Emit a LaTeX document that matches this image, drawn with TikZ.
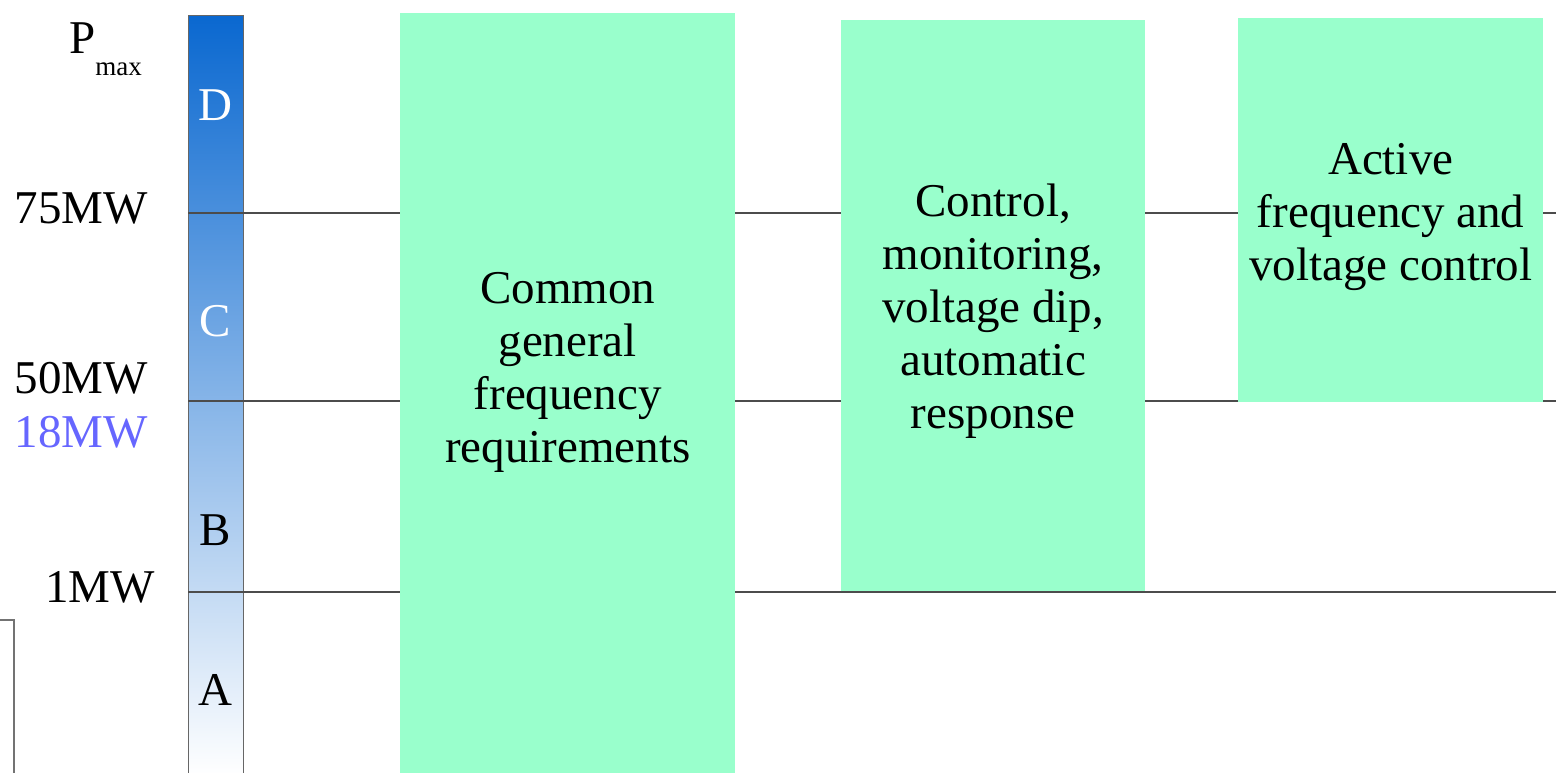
\documentclass[tikz,border=0pt]{standalone}
\usepackage{fontspec}
\setmainfont{Liberation Serif}
\usepackage{tikz}
\usetikzlibrary{positioning}
\definecolor{reqgreen}{HTML}{99FFCC}
\definecolor{barblue}{HTML}{0A68D0}
\definecolor{lblblue}{HTML}{6666FF}

\begin{document}
\begin{tikzpicture}[
      x=1pt, y=-1pt,
      every node/.style={inner sep=0pt, font=\fontsize{47}{53}\selectfont},
      reqbox/.style={fill=reqgreen, anchor=north west},
      reqtext/.style={align=center},
      mwlabel/.style={anchor=base east},
      classlbl/.style={anchor=base},
      level/.style={line width=1.2pt, black!70}
  ]
      \useasboundingbox (0,0) rectangle (1556,772);

      % Leistungsklassen-Balken
      \node[draw=black!60, line width=1.2pt, top color=barblue, bottom color=white,
            minimum width=55pt, minimum height=760pt, anchor=north west] (bar) at (188,15) {};
      \draw[black!55, line width=1.3pt] (-2,620) rectangle (14,776);

      % Grenzlinien
      \coordinate (l75) at (188,213);  \coordinate (r75) at (1556,213);
      \coordinate (l50) at (188,401);  \coordinate (r50) at (1556,401);
      \coordinate (l1)  at (188,592);  \coordinate (r1)  at (1556,592);
      \draw[level] (l75) -- (r75);
      \draw[level] (l50) -- (r50);
      \draw[level] (l1)  -- (r1);

      % Anforderungen
      \node[reqbox, minimum width=335pt, minimum height=760pt] (gen)  at (400,13)  {};
      \node[reqbox, minimum width=304pt, minimum height=571pt] (ctrl) at (841,20)  {};
      \node[reqbox, minimum width=305pt, minimum height=384pt] (act)  at (1238,18) {};
      \node[reqtext] (gentxt)  at ([yshift=21pt]gen.center)
            {Common\\general\\frequency\\requirements};
      \node[reqtext] (ctrltxt) at ([yshift=-5pt]ctrl.center)
            {Control,\\monitoring,\\voltage dip,\\automatic\\response};
      \node[reqtext] (acttxt)  at ([yshift=-7pt]act.center)
            {Active\\frequency and\\voltage control};

      % Achsenbeschriftung
      \node[anchor=base west] (pmax) at (69,53)
            {P\raisebox{-22pt}{\fontsize{27}{27}\selectfont max}};
      \node[mwlabel] (m75) at (148,223) {75MW};
      \node[mwlabel] (m50) at (148,393) {50MW};
      \node[mwlabel, lblblue] (m18) at (148,447) {18MW};
      \node[mwlabel] (m1)  at (155,602) {1MW};

      % Klassen
      \node[classlbl, white] (cD) at (215,120) {D};
      \node[classlbl, white] (cC) at (215,336) {C};
      \node[classlbl] (cB) at (215,545) {B};
      \node[classlbl] (cA) at (215,705) {A};
  \end{tikzpicture}
\end{document}
